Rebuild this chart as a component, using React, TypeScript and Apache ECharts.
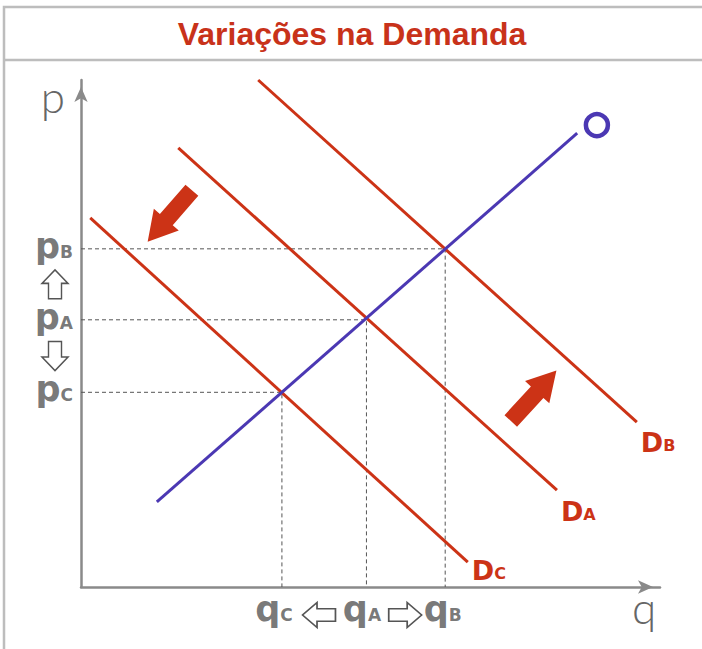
import React, { useEffect, useRef } from "react";
import * as echarts from "echarts";

// ---- data (in chart units: quantity q on x, price p on y) ----
const demandB: number[][] = [[3.06, 10.0], [9.6, 3.25]];
const demandA: number[][] = [[1.68, 8.66], [8.22, 1.91]];
const demandC: number[][] = [[0.16, 7.28], [6.68, 0.49]];
const supply: number[][] = [[1.31, 1.68], [8.57, 8.95]];
const supplyMark: number[] = [8.91, 9.11];

const eqSubs = ["C", "A", "B"];
const eqQ = [3.47, 4.93, 6.29];
const eqP = [3.84, 5.27, 6.67];

const shiftArrowPos: number[][] = [[1.53, 7.32], [7.82, 3.77]];
const shiftArrowRot = [139, -42.6];

const qArrowX = [4.11, 5.6];
const qArrowDir = ["left", "right"];
const pArrowDir = ["up", "down"];

const RED = "#cc3316";
const BLUE = "#4b38b3";
const GRAY = "#555555";
const FONT = "'DejaVu Sans', Lato, sans-serif";

const arrowSolid = "path://M16,0 L33,29 L25,29 L25,68 L8,68 L8,29 L0,29 Z";
const hollowUp = "path://M13,0 L26,14 L19.5,14 L19.5,30 L6.5,30 L6.5,14 L0,14 Z";
const hollowDown = "path://M6.5,0 L19.5,0 L19.5,16 L26,16 L13,30 L0,16 L6.5,16 Z";
const hollowLeft = "path://M0,13 L15,0 L15,6.5 L34,6.5 L34,19.5 L15,19.5 L15,26 Z";
const hollowRight = "path://M0,6.5 L19,6.5 L19,0 L34,13 L19,26 L19,19.5 L0,19.5 Z";

function richLabel(big: number, small: number, color: string) {
  return {
    b: { fontSize: big, fontWeight: "bold", color, fontFamily: FONT, lineHeight: big, verticalAlign: "bottom" },
    s: {
      fontSize: small, fontWeight: "bold", color, fontFamily: FONT, lineHeight: small,
      verticalAlign: "bottom", padding: [0, 0, Math.round((big - small) * 0.15), 0],
    },
  };
}

export default function App() {
  const ref = useRef<HTMLDivElement>(null);
  useEffect(() => {
    if (!ref.current) return;
    const chart = echarts.init(ref.current, undefined, { renderer: "svg" });

    const dashed = eqQ.map((q, i) => ({
      type: "line",
      data: [[0, eqP[i]], [q, eqP[i]], [q, 0]],
      symbol: "none",
      lineStyle: { color: "#555", width: 1, type: [4, 3] },
      silent: true,
      z: 1,
    }));

    const demandSeries = [
      { d: demandB, s: "B", off: [4, 20] },
      { d: demandA, s: "A", off: [4, 21] },
      { d: demandC, s: "C", off: [4, 8] },
    ].map((o) => ({
      type: "line",
      data: [
        o.d[0],
        {
          value: o.d[1],
          label: {
            show: true,
            position: "right",
            distance: 0,
            offset: o.off,
            formatter: `{b|D}{s|${o.s}}`,
            rich: richLabel(27, 16, RED),
          },
        },
      ],
      symbol: "circle",
      symbolSize: 0,
      showSymbol: true,
      lineStyle: { color: RED, width: 3 },
      itemStyle: { color: "rgba(0,0,0,0)" },
      z: 3,
    }));

    const pLabels = {
      type: "scatter",
      data: eqP.map((p, i) => ({
        value: [0, p],
        label: {
          show: true,
          position: "left",
          distance: 8,
          offset: [0, -3],
          formatter: `{b|p}{s|${eqSubs[i]}}`,
          rich: richLabel(35, 17, GRAY),
        },
      })),
      symbolSize: 0,
      itemStyle: { color: "rgba(0,0,0,0)" },
      silent: true,
      z: 5,
    };

    const qOffsets = [-8, -4.5, -2.5];
    const qLabels = {
      type: "scatter",
      data: eqQ.map((q, i) => ({
        value: [q, 0],
        label: {
          show: true,
          position: "inside",
          offset: [qOffsets[i], 22],
          formatter: `{b|q}{s|${eqSubs[i]}}`,
          rich: richLabel(35, 17, GRAY),
        },
      })),
      symbolSize: 0,
      itemStyle: { color: "rgba(0,0,0,0)" },
      silent: true,
      z: 5,
    };

    const pArrows = {
      type: "scatter",
      data: pArrowDir.map((d, i) => ({
        value: [0, (eqP[2 - i] + eqP[1 - i]) / 2],
        symbol: d === "up" ? hollowUp : hollowDown,
      })),
      symbolSize: [26, 29],
      symbolOffset: [-26, 0],
      itemStyle: { color: "#fff", borderColor: "#555", borderWidth: 1.5, opacity: 1 },
      silent: true,
      z: 5,
    };

    const qArrows = {
      type: "scatter",
      data: qArrowX.map((x, i) => ({
        value: [x, 0],
        symbol: qArrowDir[i] === "left" ? hollowLeft : hollowRight,
      })),
      symbolSize: [33, 25],
      symbolOffset: [0, 28],
      itemStyle: { color: "#fff", borderColor: "#555", borderWidth: 1.5, opacity: 1 },
      silent: true,
      z: 5,
    };

    const shiftArrows = {
      type: "scatter",
      data: shiftArrowPos.map((p, i) => ({ value: p, symbolRotate: shiftArrowRot[i] })),
      symbol: arrowSolid,
      symbolSize: [33, 68],
      itemStyle: { color: RED, opacity: 1 },
      silent: true,
      z: 4,
    };

    const supplySeries = {
      type: "line",
      data: supply,
      symbol: "none",
      lineStyle: { color: BLUE, width: 3 },
      z: 4,
    };

    const supplyMarkSeries = {
      type: "scatter",
      data: [supplyMark],
      symbol: "circle",
      symbolSize: 22,
      itemStyle: { color: "#fff", borderColor: BLUE, borderWidth: 4.5, opacity: 1 },
      silent: true,
      z: 4,
    };

    chart.setOption({
      animation: false,
      backgroundColor: "#fff",
      grid: { left: 81, top: 80, right: 42, bottom: 62, containLabel: false },
      xAxis: {
        type: "value",
        min: 0,
        max: 10,
        axisLine: {
          show: true,
          lineStyle: { color: "#8a8a8a", width: 2.5 },
          symbol: ["none", "arrow"],
          symbolSize: [10, 15],
          symbolOffset: [0, -7],
        },
        axisTick: { show: false },
        axisLabel: { show: false },
        splitLine: { show: false },
      },
      yAxis: {
        type: "value",
        min: 0,
        max: 10,
        axisLine: {
          show: true,
          lineStyle: { color: "#8a8a8a", width: 2.5 },
          symbol: ["none", "arrow"],
          symbolSize: [10, 15],
          symbolOffset: [0, -7],
        },
        axisTick: { show: false },
        axisLabel: { show: false },
        splitLine: { show: false },
      },
      graphic: [
        {
          type: "rect",
          shape: { x: 4, y: 7, width: 720, height: 700 },
          style: { fill: "none", stroke: "#bdbdbd", lineWidth: 2.5 },
          silent: true,
        },
        {
          type: "line",
          shape: { x1: 4, y1: 60, x2: 720, y2: 60 },
          style: { stroke: "#bdbdbd", lineWidth: 2.5 },
          silent: true,
        },
        {
          type: "text",
          x: 352,
          y: 34,
          style: {
            text: "Variações na Demanda",
            fill: "#c8321a",
            font: "bold 32px 'Liberation Sans', Arial, sans-serif",
            textAlign: "center",
            textVerticalAlign: "middle",
          },
        },
        {
          type: "text",
          x: 53,
          y: 96,
          style: {
            text: "p",
            fill: "#666",
            font: "300 44px Lato, 'DejaVu Sans', sans-serif",
            textAlign: "center",
            textVerticalAlign: "middle",
          },
        },
        {
          type: "text",
          x: 644,
          y: 607,
          style: {
            text: "q",
            fill: "#666",
            font: "300 44px Lato, 'DejaVu Sans', sans-serif",
            textAlign: "center",
            textVerticalAlign: "middle",
          },
        },
      ],
      series: [
        ...dashed,
        ...demandSeries,
        supplySeries,
        supplyMarkSeries,
        shiftArrows,
        pLabels,
        qLabels,
        pArrows,
        qArrows,
      ],
    });
    return () => chart.dispose();
  }, []);
  return (
    <div
      ref={ref}
      style={{ position: "fixed", left: 0, top: 0, width: 702, height: 649, background: "#fff" }}
    />
  );
}
